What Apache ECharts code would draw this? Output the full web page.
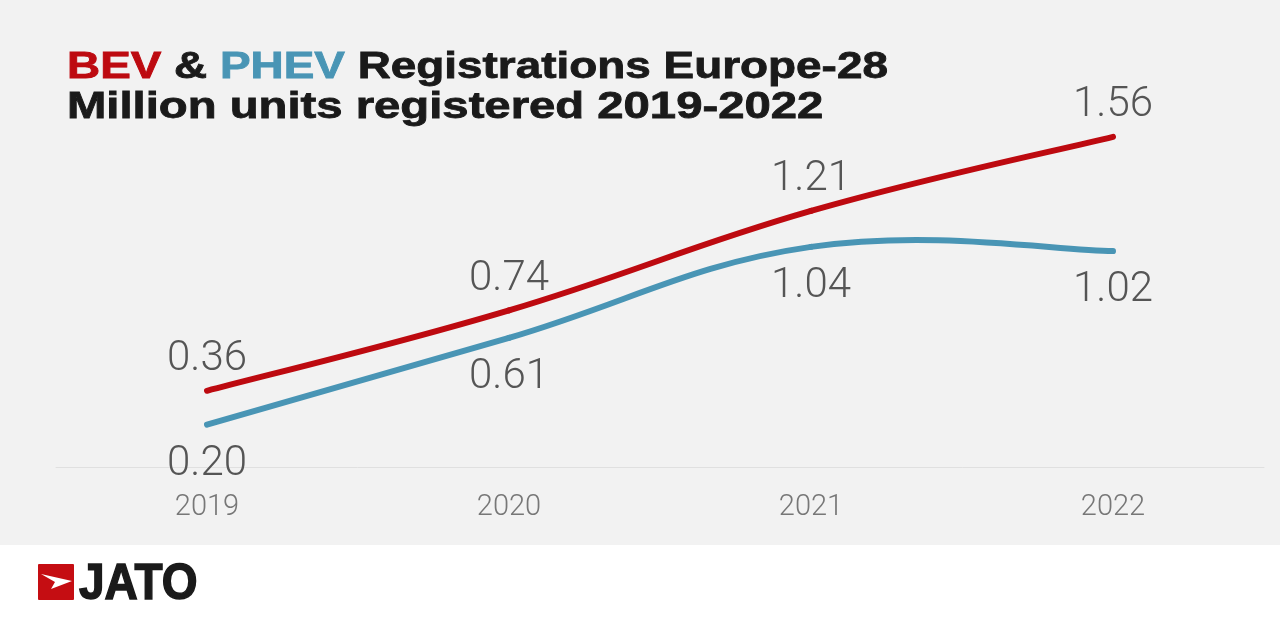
<!DOCTYPE html>
<html>
<head>
<meta charset="utf-8">
<style>
  html, body { margin: 0; padding: 0; background: #fff; }
  #chart { width: 1280px; height: 619px; }
</style>
<script src="https://cdn.jsdelivr.net/npm/echarts@6/dist/echarts.min.js"></script>
</head>
<body>
<div id="chart"></div>
<script>
let years = ['2019', '2020', '2021', '2022'];
let bevValues = [0.36, 0.74, 1.21, 1.56];
let phevValues = [0.20, 0.61, 1.04, 1.02];

const RED = '#bd0a10';
const BLUE = '#4995b5';
const INK = '#1a1a1a';
const TENSION = 0.2;

let chart = echarts.init(document.getElementById('chart'));

// line series only carries the points and value labels
function labelSeries(name, data, color, labelPos, distance) {
  return {
    name: name,
    type: 'line',
    data: data,
    symbol: 'circle',
    symbolSize: 1,
    itemStyle: { color: color },
    lineStyle: { opacity: 0 },
    label: {
      show: true,
      position: labelPos,
      distance: distance,
      fontFamily: 'Roboto',
      fontWeight: 300,
      fontSize: 42,
      color: '#555555',
      formatter: function (p) { return p.value.toFixed(2); }
    }
  };
}

// The built-in smooth clamps control points, so it can't bulge past 2021 like the original.
function curveSeries(name, data, color) {
  return {
    name: name + ' curve',
    type: 'custom',
    silent: true,
    clip: false,
    encode: { x: 0, y: 1 },
    data: data.map(function (v, i) { return [i, v]; }),
    renderItem: function (params, api) {
      let i = params.dataIndex;
      if (i >= data.length - 1) return;
      let pt = function (k) {
        let n = Math.max(0, Math.min(data.length - 1, k));
        return api.coord([n, data[n]]);
      };
      let a = pt(i), b = pt(i + 1), before = pt(i - 1), after = pt(i + 2);
      return {
        type: 'bezierCurve',
        shape: {
          x1: a[0], y1: a[1],
          x2: b[0], y2: b[1],
          cpx1: a[0] + (b[0] - before[0]) * TENSION,
          cpy1: a[1] + (b[1] - before[1]) * TENSION,
          cpx2: b[0] - (after[0] - a[0]) * TENSION,
          cpy2: b[1] - (after[1] - a[1]) * TENSION
        },
        style: { fill: null, stroke: color, lineWidth: 6, lineCap: 'round' }
      };
    }
  };
}

function titleText(y, scaleX, text) {
  let part = function (color) {
    return { fontFamily: 'Liberation Sans', fontWeight: 'bold', fontSize: 37, lineHeight: 40, fill: color, stroke: color, lineWidth: 0.8 };
  };
  return {
    type: 'text', z: 10, x: 67, y: y, scaleX: scaleX,
    style: { text: text, rich: { r: part(RED), b: part(BLUE), k: part(INK) } }
  };
}

let option = {
  backgroundColor: '#f2f2f2',
  animation: false,
  grid: { left: 56, right: 16, top: 86, bottom: 152 },
  xAxis: {
    type: 'category',
    data: years,
    axisLine: { lineStyle: { color: '#e0e0e0', width: 1 } },
    axisTick: { show: false },
    axisLabel: {
      fontFamily: 'Roboto',
      fontWeight: 300,
      fontSize: 29,
      color: '#777777',
      margin: 26
    }
  },
  yAxis: { type: 'value', min: 0, max: 1.8, show: false },
  series: [
    curveSeries('PHEV', phevValues, BLUE),
    curveSeries('BEV', bevValues, RED),
    labelSeries('BEV', bevValues, RED, 'top', 9.5),
    labelSeries('PHEV', phevValues, BLUE, 'bottom', 18)
  ],
  graphic: [
    // white footer band
    {
      type: 'rect', z: 1, silent: true,
      shape: { x: 0, y: 545, width: 1280, height: 74 },
      style: { fill: '#ffffff' }
    },
    // title, one element per row because the rows need slightly different stretch
    titleText(48, 1.24, '{r|BEV}{k| & }{b|PHEV}{k| Registrations Europe-28}'),
    titleText(88, 1.277, '{k|Million units registered 2019-2022}'),
    // logo
    {
      type: 'rect', z: 10,
      shape: { x: 38, y: 564, width: 36, height: 36, r: 1 },
      style: { fill: '#c50d12' }
    },
    {
      type: 'polygon', z: 11,
      shape: { points: [[41, 574], [72, 581], [51, 589], [55, 582]] },
      style: { fill: '#ffffff' }
    },
    {
      type: 'text', z: 10, x: 79, y: 560, scaleX: 0.92,
      style: {
        text: 'JATO',
        fontFamily: 'Liberation Sans',
        fontWeight: 'bold',
        fontSize: 50,
        fill: INK,
        stroke: INK,
        lineWidth: 1.5
      }
    }
  ]
};

option && chart.setOption(option);
</script>
</body>
</html>
